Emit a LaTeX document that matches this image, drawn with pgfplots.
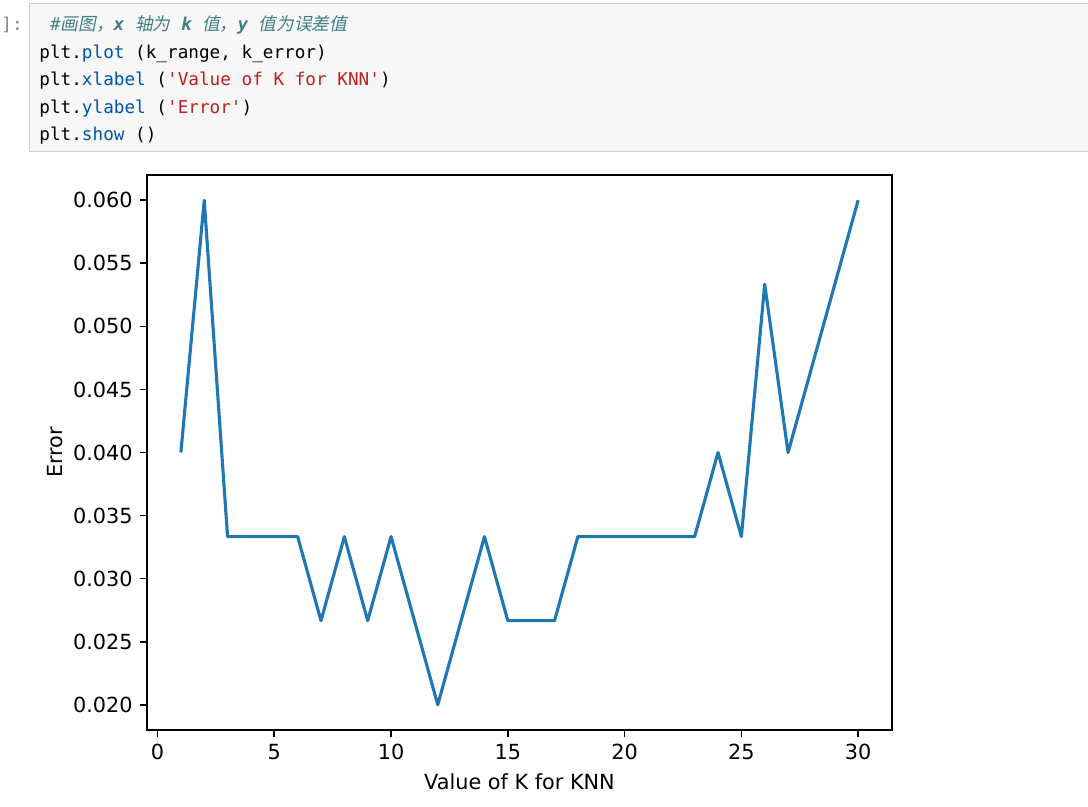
\documentclass[border=0pt]{standalone}
\usepackage{fontspec}
\setmainfont{DejaVu Sans}
\newfontfamily\codefont{DejaVu Sans Mono}
\newfontfamily\cjk[FakeSlant=0.2]{Noto Sans CJK SC}
\usepackage{pgfplots}
\pgfplotsset{compat=1.18}

\definecolor{cellbg}{HTML}{F7F7F7}
\definecolor{cellborder}{HTML}{CFCFCF}
\definecolor{cmcomment}{HTML}{408080}
\definecolor{cmprop}{HTML}{0055AA}
\definecolor{cmstring}{HTML}{BA2121}
\definecolor{mplblue}{HTML}{1F77B4}

\newcommand\q{\textquotesingle}
\newcommand\codesize{\fontsize{8.84}{10}\selectfont}

\begin{document}
\begin{tikzpicture}
\path[use as bounding box] (0,0) rectangle (544pt,-403.5pt);

% notebook code cell (coordinates in screen pixels)
\begin{scope}[x=0.5pt,y=-0.5pt]
  \draw[cellborder, fill=cellbg, line width=0.5pt] (29.5,3.5) rectangle (1100,152);
  \node[anchor=base west, inner sep=0, text=gray, font=\codefont\codesize] at (1,31) {]:};
  \node[anchor=base west, inner sep=0, text=cmcomment, font=\codesize] at (39,31)
    {{\codefont\itshape\ \#}{\cjk 画图，}{\codefont\bfseries\itshape x\ }{\cjk 轴为}{\codefont\ \bfseries\itshape k\ }{\cjk 值，}{\codefont\bfseries\itshape y\ }{\cjk 值为误差值}};
  \node[anchor=base west, inner sep=0, font=\codefont\codesize] at (39,58.5)
    {plt.\textcolor{cmprop}{plot} (k\_range, k\_error)};
  \node[anchor=base west, inner sep=0, font=\codefont\codesize] at (39,86)
    {plt.\textcolor{cmprop}{xlabel} (\textcolor{cmstring}{\q Value of K for KNN\q})};
  \node[anchor=base west, inner sep=0, font=\codefont\codesize] at (39,113.5)
    {plt.\textcolor{cmprop}{ylabel} (\textcolor{cmstring}{\q Error\q})};
  \node[anchor=base west, inner sep=0, font=\codefont\codesize] at (39,141)
    {plt.\textcolor{cmprop}{show} ()};
\end{scope}

\begin{axis}[
  at={(73.5pt,-365pt)}, anchor=south west,
  scale only axis, width=372.5pt, height=277.5pt,
  xmin=-0.45, xmax=31.45, ymin=0.018, ymax=0.062,
  xtick={0,5,...,30},
  ytick={0.020,0.025,0.030,0.035,0.040,0.045,0.050,0.055,0.060},
  scaled y ticks=false,
  yticklabel style={/pgf/number format/.cd, fixed, fixed zerofill, precision=3},
  /pgf/number format/assume math mode=true,
  tick align=outside, xtick pos=left, ytick pos=left,
  major tick length=3.65pt,
  tick style={black, line width=0.83pt},
  axis line style={line width=0.83pt},
  ticklabel style={font=\fontsize{10.4}{12}\selectfont},
  xlabel={Value of K for KNN}, ylabel={Error},
  label style={font=\fontsize{10.4}{12}\selectfont},
  xlabel style={at={(axis description cs:0.5,0)}, anchor=center, yshift=-26pt},
  ylabel style={at={(axis description cs:-0.1235,0.5)}, anchor=center},
]
\addplot[mplblue, line width=1.56pt, line join=round] coordinates {
  (1,0.040000) (2,0.060000) (3,0.033333) (4,0.033333) (5,0.033333)
  (6,0.033333) (7,0.026667) (8,0.033333) (9,0.026667) (10,0.033333)
  (11,0.026667) (12,0.020000) (13,0.026667) (14,0.033333) (15,0.026667)
  (16,0.026667) (17,0.026667) (18,0.033333) (19,0.033333) (20,0.033333)
  (21,0.033333) (22,0.033333) (23,0.033333) (24,0.040000) (25,0.033333)
  (26,0.053333) (27,0.040000) (28,0.046667) (29,0.053333) (30,0.060000)
};
\end{axis}
\end{tikzpicture}
\end{document}
